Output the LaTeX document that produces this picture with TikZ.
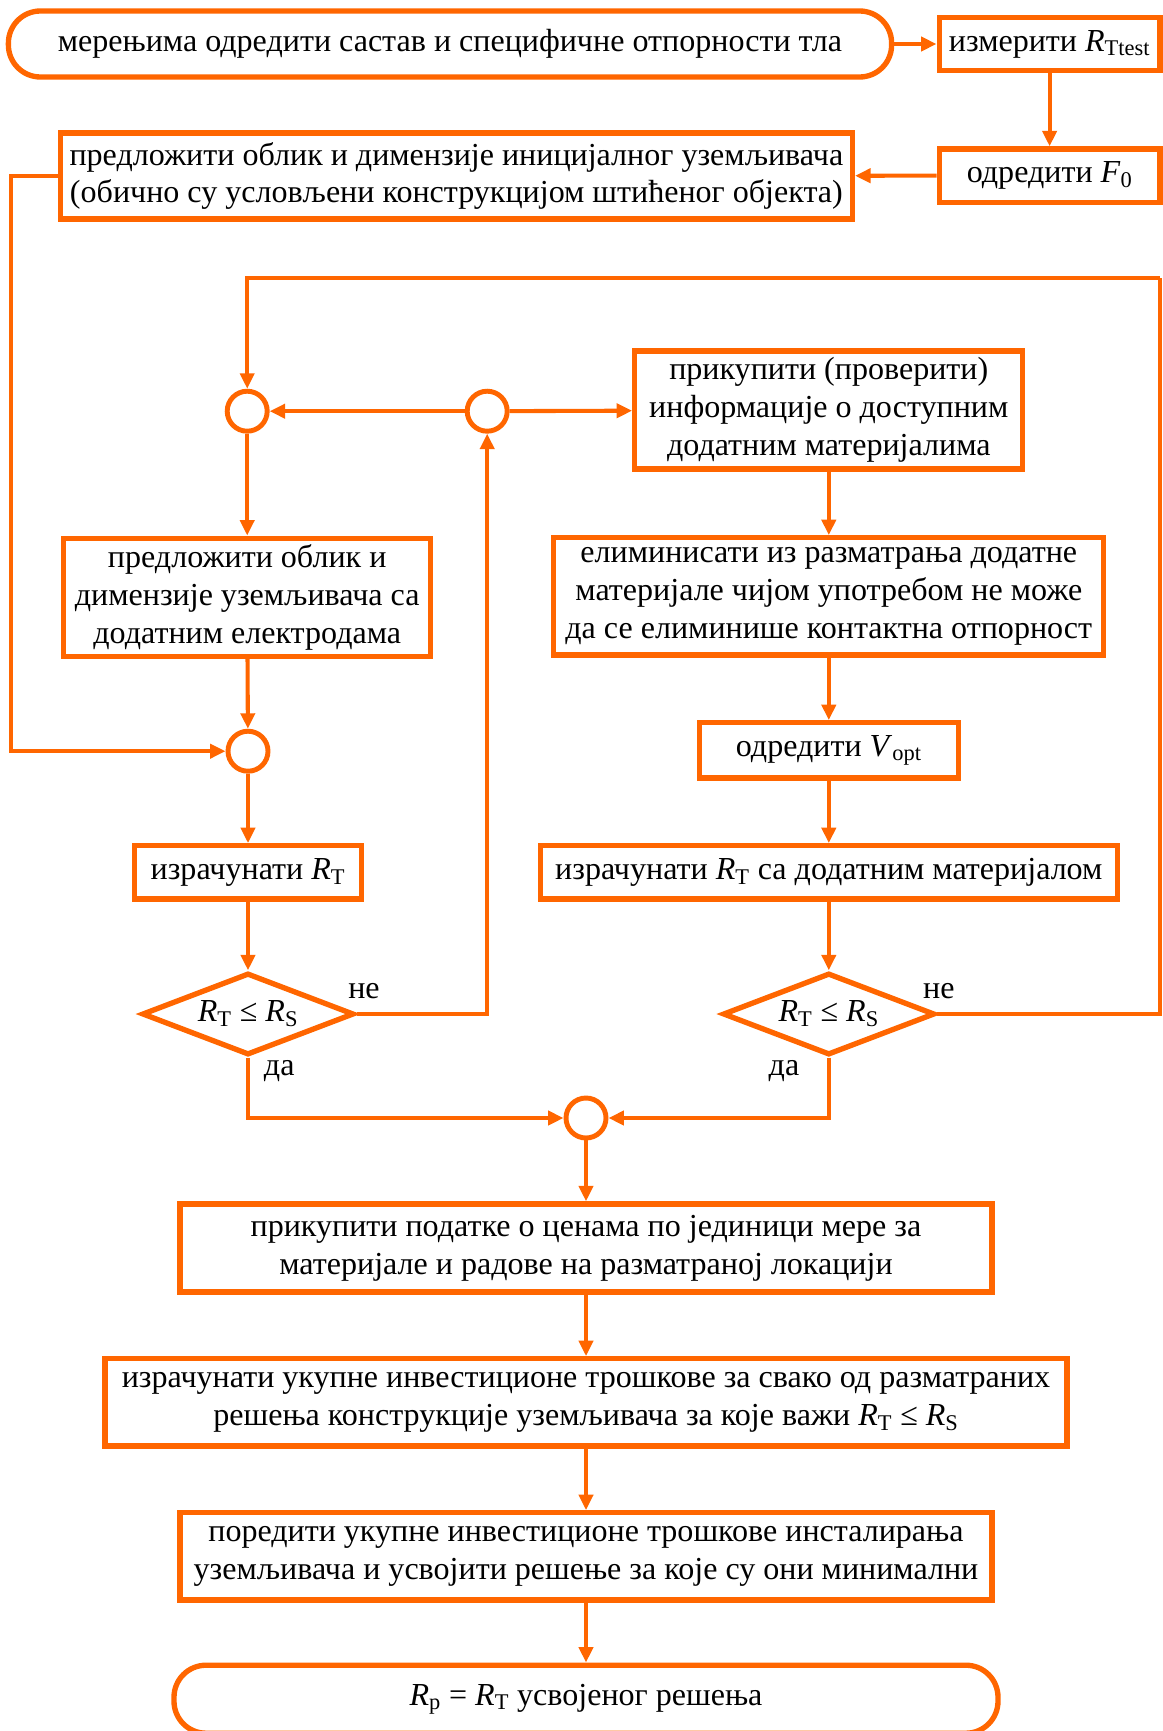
\documentclass[tikz,border=0pt]{standalone}
\usepackage{fontspec}
\setmainfont{Liberation Serif}
\usetikzlibrary{arrows.meta,shapes.geometric}
\definecolor{flow}{HTML}{FF6600}
\newcommand{\Rind}[1]{\textit{R}\textsubscript{#1}}
\tikzset{
  box/.style={draw=flow, line width=3.8pt, rectangle, align=center, inner sep=2pt},
  term/.style={draw=flow, line width=3.8pt, rectangle, rounded corners=0.8cm, align=center},
  junc/.style={draw=flow, line width=3.5pt, circle, minimum size=1.0cm, inner sep=0pt},
  dec/.style={draw=flow, line width=3.8pt, diamond, aspect=2.6, minimum width=5.3cm, minimum height=2.05cm, inner sep=0pt},
  lbl/.style={inner sep=1pt},
  conn/.style={draw=flow, line width=2.9pt, -{Triangle[length=11pt,width=10pt]}},
  line/.style={draw=flow, line width=2.9pt}
}
\begin{document}
\begin{tikzpicture}[font=\fontsize{22.8}{27}\selectfont]
\useasboundingbox (0,0) rectangle (29.075,-43.275);
% top part
\node[term, minimum width=22.08cm, minimum height=1.65cm] (start) at (11.25,-1.10) {мерењима одредити састав и специфичне отпорности тла};
\node[box, minimum width=5.52cm, minimum height=1.33cm] (meas) at (26.24,-1.10) {измерити \Rind{Ttest}};
\node[box, minimum width=5.52cm, minimum height=1.33cm] (ffac) at (26.24,-4.39) {одредити \textit{F}\textsubscript{0}};
\node[box, minimum width=19.8cm, minimum height=2.15cm] (init) at (11.41,-4.40) {предложити облик и димензије иницијалног уземљивача\\(обично су условљени конструкцијом штићеног објекта)};
% junctions
\node[junc] (j1) at (6.18,-10.28) {};
\node[junc] (j2) at (12.18,-10.28) {};
\node[junc] (j3) at (6.20,-18.78) {};
\node[junc] (j4) at (14.65,-27.95) {};
% left column
\node[box, minimum width=9.18cm, minimum height=2.95cm] (elec) at (6.18,-14.93) {предложити облик и\\димензије уземљивача са\\додатним електродама};
\node[box, minimum width=5.68cm, minimum height=1.33cm] (calc) at (6.20,-21.81) {израчунати \Rind{T}};
\node[dec] (d1) at (6.20,-25.35) {\Rind{T} ≤ \Rind{S}};
% right column
\node[box, minimum width=9.7cm, minimum height=2.95cm] (info) at (20.72,-10.25) {прикупити (проверити)\\информације о доступним\\додатним материјалима};
\node[box, minimum width=13.75cm, minimum height=2.93cm] (elim) at (20.72,-14.91) {елиминисати из разматрања додатне\\материјале чијом употребом не може\\да се елиминише контактна отпорност};
\node[box, minimum width=6.48cm, minimum height=1.38cm] (vopt) at (20.72,-18.76) {одредити \textit{V}\textsubscript{opt}};
\node[box, minimum width=14.43cm, minimum height=1.33cm] (calcm) at (20.72,-21.81) {израчунати \Rind{T} са додатним материјалом};
\node[dec] (d2) at (20.72,-25.35) {\Rind{T} ≤ \Rind{S}};
% bottom part
\node[box, minimum width=20.3cm, minimum height=2.2cm] (price) at (14.65,-31.20) {прикупити податке о ценама по јединици мере за\\материјале и радове на разматраној локацији};
\node[box, minimum width=24.05cm, minimum height=2.18cm] (cost) at (14.65,-35.06) {израчунати укупне инвестиционе трошкове за свако од разматраних\\решења конструкције уземљивача за које важи \Rind{T} ≤ \Rind{S}};
\node[box, minimum width=20.3cm, minimum height=2.18cm] (comp) at (14.65,-38.91) {поредити укупне инвестиционе трошкове инсталирања\\уземљивача и усвојити решење за које су они минимални};
\node[term, minimum width=20.6cm, minimum height=1.7cm] (stop) at (14.65,-42.48) {\Rind{p} = \Rind{T} усвојеног решења};
% labels
\node[lbl] (no1) at (9.10,-24.78) {не};
\node[lbl] (yes1) at (6.98,-26.78) {да};
\node[lbl] (no2) at (23.47,-24.78) {не};
\node[lbl] (yes2) at (19.60,-26.78) {да};
\coordinate (lft) at (0.28,-4.40);
\coordinate (top) at (29.00,-6.95);
% connectors
\draw[conn] (start) -- (meas);
\draw[conn] (meas) -- (ffac);
\draw[conn] (ffac) -- (init);
\draw[conn] (init.west) -- (lft) |- (j3.west);
\draw[conn] (j1) -- (elec);
\draw[conn] (elec) -- (j3);
\draw[conn] (j3) -- (calc);
\draw[conn] (calc) -- (d1);
\draw[conn] (d1.east) -| (j2.south);
\draw[conn] (j2) -- (j1);
\draw[conn] (j2) -- (info);
\draw[conn] (info) -- (elim);
\draw[conn] (elim) -- (vopt);
\draw[conn] (vopt) -- (calcm);
\draw[conn] (calcm) -- (d2);
\draw[line] (d2.east) -| (top);
\draw[conn] (top) -| (j1.north);
\draw[conn] (d1.south) |- (j4.west);
\draw[conn] (d2.south) |- (j4.east);
\draw[conn] (j4) -- (price);
\draw[conn] (price) -- (cost);
\draw[conn] (cost) -- (comp);
\draw[conn] (comp) -- (stop);
\end{tikzpicture}
\end{document}
